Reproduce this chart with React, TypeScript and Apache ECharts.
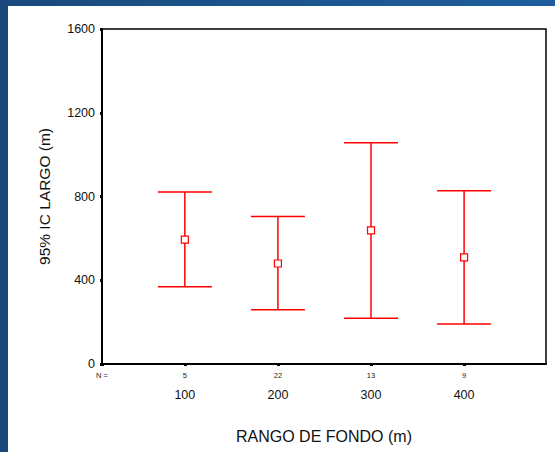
import React, { useEffect, useRef } from "react";
import * as echarts from "echarts";

const categories = ["100", "200", "300", "400"];
const counts = [5, 22, 13, 9];
const means = [594, 480, 638, 509];
const lows = [369, 259, 218, 191];
const highs = [822, 705, 1057, 828];
const yTicks = [0, 400, 800, 1200, 1600];
const nLabel = "N =";
const xMin = 11;
const xMax = 488;

export default function App() {
  const ref = useRef<HTMLDivElement>(null);
  useEffect(() => {
    if (!ref.current) return;
    const chart = echarts.init(ref.current, null, { renderer: "svg" });
    const xPos = categories.map((c) => Number(c));
    const barData = xPos.map((x, i) => [x, lows[i], highs[i]]);
    const meanData = xPos.map((x, i) => [x, means[i]]);
    const font = "Liberation Sans, Arial, sans-serif";
    chart.setOption({
      animation: false,
      backgroundColor: "transparent",
      grid: {
        left: 102,
        top: 29,
        right: 9,
        bottom: 88,
        show: true,
        borderColor: "#000",
        borderWidth: 1.5,
        backgroundColor: "transparent",
      },
      xAxis: {
        type: "value",
        min: xMin,
        max: xMax,
        name: "RANGO DE FONDO (m)",
        nameLocation: "middle",
        nameGap: 64,
        nameTextStyle: { fontSize: 16, color: "#111", fontFamily: font },
        splitLine: { show: false },
        axisLine: { show: true, onZero: false, lineStyle: { color: "#000", width: 2 } },
        axisTick: {
          show: true,
          customValues: [xMin, ...xPos],
          length: 2,
          lineStyle: { color: "#000", width: 3 },
        },
        axisLabel: {
          customValues: [xMin, ...xPos],
          margin: 5,
          showMinLabel: true,
          showMaxLabel: true,
          hideOverlap: false,
          fontFamily: font,
          formatter: (v: number) => {
            if (v === xMin) return "{n|" + nLabel + "}";
            const i = xPos.indexOf(v);
            if (i < 0) return "";
            return "{n|" + counts[i] + "}\n{c|" + categories[i] + "}";
          },
          rich: {
            n: { fontSize: 7.5, lineHeight: 13, color: "#222", fontFamily: font },
            c: { fontSize: 12.5, lineHeight: 26, color: "#111", fontFamily: font },
          },
        },
      },
      yAxis: {
        type: "value",
        min: 0,
        max: 1600,
        interval: 400,
        name: "95% IC LARGO (m)",
        nameLocation: "middle",
        nameRotate: 90,
        nameGap: 50,
        nameTextStyle: { fontSize: 15.5, color: "#111", fontFamily: font },
        splitLine: { show: false },
        axisLine: { show: true, lineStyle: { color: "#000", width: 2 } },
        axisTick: {
          show: true,
          customValues: yTicks,
          length: 2,
          lineStyle: { color: "#000", width: 3 },
        },
        axisLabel: {
          customValues: yTicks,
          margin: 7,
          fontSize: 12.5,
          color: "#111",
          fontFamily: font,
          formatter: (v: number) => String(v),
        },
      },
      series: [
        {
          type: "custom",
          data: barData,
          z: 2,
          renderItem: (params: any, api: any) => {
            const x = api.value(0);
            const lo = api.coord([x, api.value(1)]);
            const hi = api.coord([x, api.value(2)]);
            const half = 27;
            const style = { stroke: "#ff0000", lineWidth: 1.5 };
            return {
              type: "group",
              children: [
                { type: "line", shape: { x1: lo[0], y1: lo[1], x2: hi[0], y2: hi[1] }, style },
                { type: "line", shape: { x1: hi[0] - half, y1: hi[1], x2: hi[0] + half, y2: hi[1] }, style },
                { type: "line", shape: { x1: lo[0] - half, y1: lo[1], x2: lo[0] + half, y2: lo[1] }, style },
              ],
            };
          },
        },
        {
          type: "scatter",
          data: meanData,
          z: 3,
          symbol: "rect",
          symbolSize: 7,
          itemStyle: { color: "#fff", borderColor: "#ff0000", borderWidth: 1.2, opacity: 1 },
        },
      ],
    });
    return () => chart.dispose();
  }, []);

  return (
    <div
      style={{
        position: "fixed",
        left: 0,
        top: 0,
        width: 555,
        height: 452,
        background: "linear-gradient(90deg, #1a4a7c 0%, #1c5690 60%, #1e5e9e 100%)",
        overflow: "hidden",
      }}
    >
      <div
        style={{
          position: "absolute",
          left: 8,
          top: 6,
          width: 547,
          height: 446,
          background: "#fff",
        }}
      />
      <div ref={ref} style={{ position: "absolute", left: 0, top: 0, width: 555, height: 452 }} />
    </div>
  );
}
